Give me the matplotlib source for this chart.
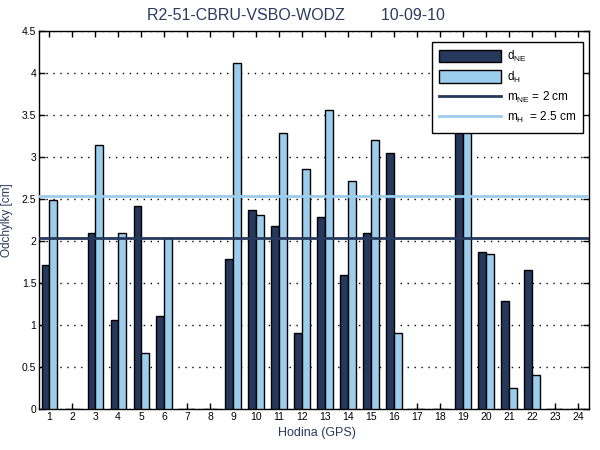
import matplotlib
matplotlib.use("Agg")
import matplotlib.pyplot as plt
import numpy as np

plt.rcParams['font.family'] = ['Liberation Sans', 'DejaVu Sans']
plt.rcParams['mathtext.fontset'] = 'custom'
plt.rcParams['mathtext.rm'] = 'Liberation Sans'
plt.rcParams['mathtext.it'] = 'Liberation Sans'

hours = list(range(1, 25))
d_ne = [1.71, 0, 2.09, 1.06, 2.42, 1.11, 0, 0, 1.79, 2.37, 2.18, 0.90,
        2.29, 1.60, 2.10, 3.05, 0, 0, 3.90, 1.87, 1.28, 1.66, 0, 0]
d_h = [2.49, 0, 3.14, 2.10, 0.67, 2.03, 0, 0, 4.12, 2.31, 3.29, 2.86,
       3.56, 2.71, 3.20, 0.90, 0, 0, 3.70, 1.85, 0.25, 0.41, 0, 0]
m_ne = 2.04
m_h = 2.53
title = "R2-51-CBRU-VSBO-WODZ        10-09-10"

c_ne = '#26385c'
c_h = '#9dcdec'
navy = '#2b3a5e'

fig = plt.figure(figsize=(6, 4.5), dpi=100)
ax = fig.add_axes([39/600, 1-409/450, 550/600, 378/450])

x = np.array(hours)
w = 0.33
b1 = ax.bar(x - w/2, d_ne, w, color=c_ne, edgecolor='black', linewidth=1, zorder=3)
b2 = ax.bar(x + w/2, d_h, w, color=c_h, edgecolor='black', linewidth=1, zorder=3)
l1 = ax.axhline(m_ne, color=c_ne, linewidth=2, zorder=4)
l2 = ax.axhline(m_h, color=c_h, linewidth=2, zorder=4)

ax.set_xlim(0.56, 24.48)
ax.set_ylim(0, 4.5)
ax.set_xticks(hours)
ax.set_xticklabels([str(h) for h in hours])
yt = np.arange(0, 4.51, 0.5)
ax.set_yticks(yt)
ax.set_yticklabels(['0' if v == 0 else ('%g' % v) for v in yt])
ax.tick_params(direction='in', length=4, width=1, top=True, right=True,
               labelsize=7.5, pad=2, colors='black')
ax.yaxis.grid(True, linestyle=(0, (1, 4)), color='black', linewidth=1, zorder=0)
ax.set_axisbelow(True)
for s in ax.spines.values():
    s.set_linewidth(1)

ax.set_xlabel('Hodina (GPS)', fontsize=9, color=navy)
ax.xaxis.set_label_coords((317-39)/550, -(427-409)/378)
ax.set_ylabel('Odchylky [cm]', fontsize=8.5, color=navy)
ax.yaxis.set_label_coords(-(39-13)/550, 0.5)
fig.text(296/600, 1-16/450, title, fontsize=11.5, color=navy, ha='center', va='center')

labels = ['d$_{\\mathrm{NE}}$', 'd$_{\\mathrm{H}}$',
          'm$_{\\mathrm{NE}}$ = 2 cm', 'm$_{\\mathrm{H}}$  = 2.5 cm']
leg = ax.legend([b1, b2, l1, l2], labels, loc='upper right',
                bbox_to_anchor=(583/600, 1-42/450), bbox_transform=fig.transFigure,
                borderaxespad=0,
                fontsize=8.5, frameon=True, fancybox=False, framealpha=1, edgecolor='black',
                handlelength=5.2, handleheight=1.2, borderpad=0.6, labelspacing=0.45,
                handletextpad=0.5)
leg.get_frame().set_linewidth(1)
leg.set_zorder(10)

fig.savefig('out.png', dpi=100)
